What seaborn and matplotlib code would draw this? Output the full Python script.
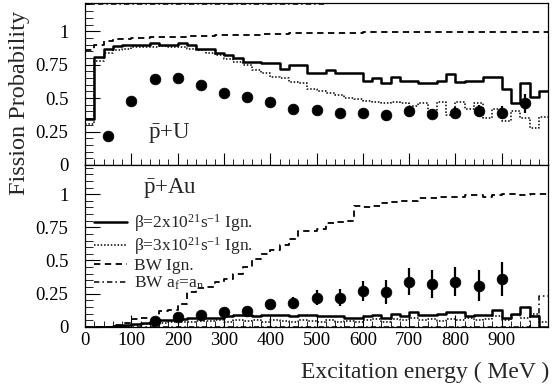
import numpy as np
import matplotlib
matplotlib.use('Agg')
import matplotlib.pyplot as plt
import seaborn as sns
from matplotlib.ticker import MultipleLocator, FuncFormatter

sns.set_style('ticks')
plt.rcParams['font.family'] = ['Liberation Serif', 'DejaVu Serif']
plt.rcParams['mathtext.fontset'] = 'custom'
plt.rcParams['mathtext.rm'] = 'Liberation Serif'
plt.rcParams['mathtext.it'] = 'Liberation Serif:italic'
plt.rcParams['mathtext.bf'] = 'Liberation Serif:bold'

# ---------------- data ----------------
bin_edges = np.arange(0, 1001, 20)  # MeV, 50 bins

# p-bar + U  (top panel)
U_beta2 = [0.34, 0.81, 0.87, 0.89, 0.90, 0.90, 0.90, 0.91, 0.90, 0.90,
           0.91, 0.90, 0.87, 0.87, 0.84, 0.82, 0.80, 0.77, 0.77, 0.76,
           0.76, 0.72, 0.75, 0.75, 0.69, 0.69, 0.71, 0.69, 0.69, 0.69,
           0.63, 0.65, 0.61, 0.66, 0.63, 0.63, 0.61, 0.61, 0.63, 0.68,
           0.62, 0.63, 0.63, 0.66, 0.66, 0.57, 0.46, 0.61, 0.51, 0.55]
U_beta3 = [0.31, 0.78, 0.84, 0.86, 0.87, 0.88, 0.88, 0.88, 0.89, 0.88,
           0.88, 0.87, 0.86, 0.84, 0.82, 0.79, 0.77, 0.75, 0.71, 0.69,
           0.66, 0.65, 0.62, 0.61, 0.57, 0.55, 0.54, 0.52, 0.50, 0.49,
           0.48, 0.47, 0.46, 0.47, 0.46, 0.44, 0.46, 0.39, 0.47, 0.37,
           0.47, 0.42, 0.46, 0.35, 0.42, 0.33, 0.40, 0.35, 0.28, 0.36]
U_bw = [0.86, 0.90, 0.93, 0.94, 0.94, 0.95, 0.95, 0.955, 0.955, 0.96,
        0.96, 0.965, 0.965, 0.965, 0.97, 0.97, 0.975, 0.975, 0.975, 0.98,
        0.98, 0.98, 0.985, 0.985, 0.985, 0.99, 0.99, 0.99, 0.99, 0.99,
        0.995, 0.995, 0.995, 0.995, 0.995, 0.995, 0.995, 0.995, 0.995, 0.995,
        0.995, 0.995, 0.995, 0.995, 0.995, 0.995, 0.995, 0.995, 0.995, 0.995]
U_bw_af = [1.205] * 27 + [np.nan] * 23

U_exp_E = [50, 100, 150, 200, 250, 300, 350, 400, 450, 500, 550, 600,
           650, 700, 750, 800, 850, 900, 950]
U_exp_P = [0.22, 0.48, 0.64, 0.65, 0.60, 0.54, 0.51, 0.47, 0.42, 0.41, 0.39,
           0.39, 0.37, 0.40, 0.38, 0.39, 0.40, 0.39, 0.46]
U_exp_err = [0.01, 0.015, 0.015, 0.015, 0.015, 0.015, 0.02, 0.02, 0.02, 0.025,
             0.03, 0.035, 0.04, 0.04, 0.04, 0.045, 0.045, 0.05, 0.07]

# p-bar + Au  (bottom panel)
Au_beta2 = [0.0, 0.0, 0.0, 0.005, 0.01, 0.02, 0.03, 0.04, 0.05, 0.05,
            0.06, 0.07, 0.07, 0.07, 0.07, 0.08, 0.09, 0.09, 0.08, 0.09,
            0.09, 0.09, 0.08, 0.09, 0.09, 0.08, 0.08, 0.08, 0.07, 0.07,
            0.08, 0.09, 0.07, 0.10, 0.08, 0.11, 0.09, 0.09, 0.10, 0.11,
            0.11, 0.08, 0.09, 0.09, 0.13, 0.07, 0.10, 0.15, 0.08, 0.0]
Au_beta3 = [0.0, 0.0, 0.0, 0.003, 0.008, 0.012, 0.02, 0.025, 0.03, 0.035,
            0.04, 0.04, 0.045, 0.045, 0.05, 0.04, 0.05, 0.045, 0.05, 0.04,
            0.05, 0.045, 0.04, 0.05, 0.045, 0.04, 0.05, 0.04, 0.045, 0.04,
            0.05, 0.06, 0.04, 0.06, 0.05, 0.07, 0.05, 0.06, 0.045, 0.06,
            0.05, 0.07, 0.05, 0.06, 0.08, 0.05, 0.09, 0.07, 0.10, 0.04]
Au_bw = [0.0, 0.0, 0.0, 0.01, 0.03, 0.06, 0.07, 0.07, 0.12, 0.13,
         0.17, 0.26, 0.29, 0.30, 0.34, 0.36, 0.40, 0.45, 0.51, 0.55,
         0.58, 0.62, 0.66, 0.72, 0.72, 0.74, 0.78, 0.79, 0.80, 0.91,
         0.90, 0.91, 0.93, 0.94, 0.95, 0.95, 0.97, 0.97, 0.98, 0.98,
         0.98, 0.99, 0.99, 0.98, 0.99, 1.0, 1.0, 0.99, 1.0, 1.0]
Au_bw_af = [0.0] * 48 + [0.08, 0.23]

Au_exp_E = [150, 200, 250, 300, 350, 400, 450, 500, 550, 600, 650, 700,
            750, 800, 850, 900]
Au_exp_P = [0.045, 0.075, 0.09, 0.11, 0.12, 0.17, 0.18, 0.22, 0.22, 0.27,
            0.26, 0.34, 0.32, 0.34, 0.31, 0.36]
Au_exp_err = [0.01, 0.01, 0.015, 0.015, 0.02, 0.03, 0.045, 0.057, 0.066, 0.078,
              0.09, 0.10, 0.105, 0.11, 0.115, 0.125]

legend_labels = [r'β=2x10$^{\mathregular{21}}$s$^{\mathregular{-1}}$ Ign.',
                 r'β=3x10$^{\mathregular{21}}$s$^{\mathregular{-1}}$ Ign.',
                 'BW Ign.',
                 r'BW a$_{\mathregular{f}}$=a$_{\mathregular{n}}$']
xticks = [0, 100, 200, 300, 400, 500, 600, 700, 800, 900]
yticks = [0, 0.25, 0.5, 0.75, 1]

# ---------------- plotting ----------------
fig = plt.figure(figsize=(5.53, 3.90), dpi=100)
ax_top = fig.add_axes([0.154, 0.577, 0.837, 0.415])
ax_bot = fig.add_axes([0.154, 0.162, 0.837, 0.415], sharex=ax_top)

styles = [dict(linestyle='-', linewidth=1.8),
          dict(linestyle=(0, (1, 1.2)), linewidth=1.1),
          dict(linestyle=(0, (3.5, 2.5)), linewidth=1.3),
          dict(linestyle=(0, (3.5, 2, 1, 2)), linewidth=1.1)]


def step(ax, vals, st, label=None):
    y = np.append(np.asarray(vals, dtype=float), vals[-1])
    sns.lineplot(x=bin_edges, y=y, drawstyle='steps-post', color='black',
                 ax=ax, label=label, errorbar=None, sort=False, **st)


for vals, st in zip([U_beta2, U_beta3, U_bw, U_bw_af], styles):
    step(ax_top, vals, st)
for vals, st, lab in zip([Au_beta2, Au_beta3, Au_bw, Au_bw_af], styles, legend_labels):
    step(ax_bot, vals, st, lab)

for ax, E, P, err in [(ax_top, U_exp_E, U_exp_P, U_exp_err),
                      (ax_bot, Au_exp_E, Au_exp_P, Au_exp_err)]:
    ax.errorbar(E, P, yerr=err, fmt='none', ecolor='black', elinewidth=1.6,
                capsize=0, zorder=4)
    sns.scatterplot(x=E, y=P, color='black', s=60, edgecolor='black',
                    linewidth=0.5, ax=ax, zorder=5)

fmt = FuncFormatter(lambda v, p: f'{v:g}')
for ax, ytop in [(ax_top, 1.21), (ax_bot, 1.22)]:
    ax.set_xlim(0, 1000)
    ax.set_ylim(0, ytop)
    ax.set_yticks(yticks)
    ax.yaxis.set_major_formatter(fmt)
    ax.yaxis.set_minor_locator(MultipleLocator(0.05))
    ax.xaxis.set_major_locator(MultipleLocator(100))
    ax.xaxis.set_minor_locator(MultipleLocator(20))
    ax.tick_params(axis='both', which='both', direction='in', top=False,
                   right=False, colors='black', labelsize=13.5)
    ax.tick_params(axis='y', which='major', length=11, width=0.8, pad=12)
    ax.tick_params(axis='y', which='minor', length=5.5, width=0.6)
    ax.tick_params(axis='x', which='major', length=9, width=0.8, pad=4)
    ax.tick_params(axis='x', which='minor', length=4.5, width=0.6)
    for sp in ax.spines.values():
        sp.set_visible(True)
        sp.set_linewidth(0.9)
        sp.set_color('black')
    ax.set_xlabel('')
    ax.set_ylabel('')

ax_top.set_xticks(xticks)
plt.setp(ax_top.get_xticklabels(), visible=False)
ax_bot.set_xticks(xticks)

ax_top.text(0.135, 0.20, r'$\bar{\mathregular{p}}$+U', transform=ax_top.transAxes,
            fontsize=16.5, ha='left', va='center')
ax_bot.text(0.125, 0.86, r'$\bar{\mathregular{p}}$+Au', transform=ax_bot.transAxes,
            fontsize=16.5, ha='left', va='center')

ax_bot.legend(loc='upper left', bbox_to_anchor=(0.0, 0.76), frameon=False,
              fontsize=12.5, handlelength=1.9, handletextpad=0.4,
              labelspacing=0.05, borderpad=0.2, borderaxespad=0.3)

fig.text(0.993, 0.046, 'Excitation energy ( MeV )', ha='right', va='center',
         fontsize=17)
fig.text(0.036, 0.735, 'Fission Probability', ha='center', va='center',
         rotation=90, fontsize=17.5)

fig.savefig('out.png', dpi=100)
